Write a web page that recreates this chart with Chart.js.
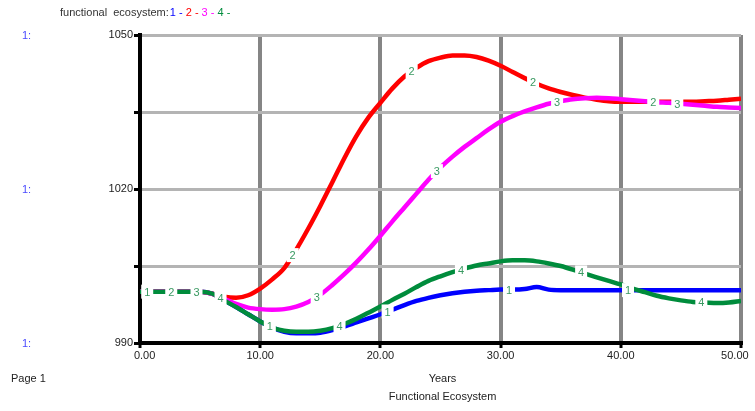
<!DOCTYPE html>
<html>
<head>
<meta charset="utf-8">
<script src="https://cdn.jsdelivr.net/npm/chart.js@4"></script>
<style>
  html, body { margin: 0; padding: 0; background: #fff; }
</style>
</head>
<body>
<canvas id="chart" width="755" height="411"></canvas>
<script>
// Years on the x axis
const years = [0, 1, 2, 3, 4, 5, 6, 7, 8, 9, 10, 11, 12, 13, 14, 15, 16, 17, 18, 19, 20,
    21, 22, 23, 24, 25, 26, 27, 28, 29, 30, 31, 32, 33, 34, 35, 36, 37, 38, 39, 40,
    41, 42, 43, 44, 45, 46, 47, 48, 49, 50];

// functional ecosystem, runs 1..4
const run1 = [1000, 1000, 1000, 1000, 1000, 1000, 999.6, 998.3, 997.0, 995.6, 994.2,
    993.0, 992.2, 991.9, 991.9, 992.0, 992.5, 993.2, 994.0, 994.8, 995.6,
    996.5, 997.4, 998.2, 998.8, 999.3, 999.7, 1000.0, 1000.2, 1000.3, 1000.4,
    1000.4, 1000.5, 1000.9, 1000.4, 1000.3, 1000.3, 1000.3, 1000.3, 1000.3, 1000.3,
    1000.3, 1000.3, 1000.3, 1000.3, 1000.3, 1000.3, 1000.3, 1000.3, 1000.3, 1000.3];
const run2 = [1000, 1000, 1000, 1000, 1000, 1000, 999.6, 999.0, 998.8, 999.3, 1000.6,
    1002.4, 1004.6, 1008.2, 1012.3, 1016.7, 1021.3, 1026.0, 1030.3, 1033.9, 1036.8,
    1039.6, 1041.9, 1043.6, 1044.9, 1045.6, 1046.0, 1046.0, 1045.7, 1045.0, 1044.0,
    1042.8, 1041.6, 1040.5, 1039.6, 1038.9, 1038.3, 1037.8, 1037.4, 1037.1, 1037.0,
    1037.0, 1037.0, 1037.0, 1037.0, 1037.0, 1037.0, 1037.1, 1037.2, 1037.4, 1037.6];
const run3 = [1000, 1000, 1000, 1000, 1000, 1000, 999.6, 998.6, 997.6, 996.9, 996.6,
    996.5, 996.6, 997.1, 998.0, 999.4, 1001.3, 1003.4, 1005.7, 1008.2, 1010.9,
    1013.7, 1016.4, 1019.1, 1021.8, 1024.2, 1026.3, 1028.2, 1029.9, 1031.6, 1033.1,
    1034.2, 1035.1, 1035.9, 1036.6, 1037.1, 1037.5, 1037.7, 1037.8, 1037.7, 1037.5,
    1037.3, 1037.1, 1036.9, 1036.8, 1036.6, 1036.4, 1036.2, 1036.0, 1035.9, 1035.8];
const run4 = [1000, 1000, 1000, 1000, 1000, 1000, 999.6, 998.3, 997.0, 995.6, 994.2,
    993.0, 992.4, 992.2, 992.2, 992.4, 992.9, 993.7, 994.7, 995.9, 997.1,
    998.4, 999.6, 1000.9, 1002.1, 1003.0, 1003.8, 1004.5, 1005.1, 1005.5, 1005.9,
    1006.1, 1006.1, 1005.9, 1005.5, 1005.0, 1004.3, 1003.5, 1002.8, 1002.1, 1001.4,
    1000.6, 999.9, 999.2, 998.7, 998.3, 998.0, 997.9, 997.8, 997.9, 998.2];

// where the little run numbers sit along each curve (years)
const markYears1 = [0.6, 10.8, 20.6, 30.7, 40.6];
const markYears2 = [2.6, 12.7, 22.6, 32.7, 42.7];
const markYears3 = [4.7, 14.7, 24.7, 34.7, 44.7];
const markYears4 = [6.7, 16.6, 26.7, 36.7, 46.7];

const yTicksShown = [1050, 1020, 990];
const xTitle = 'Years';
const pageTitle = 'Functional Ecosystem';
const graphTitle = 'functional  ecosystem:';

const FONT = '11px "Liberation Sans", Arial, sans-serif';
const runColors = ['#0000ff', '#ff0000', '#ff00ff', '#008c3c'];
const markColor = '#3a9a62';

const runs = [run1, run2, run3, run4];
const markYears = [markYears1, markYears2, markYears3, markYears4];

function valueAt(series, t) {
    const i = Math.min(Math.floor(t), years.length - 2);
    const f = t - years[i];
    return series[i] + (series[i + 1] - series[i]) * f;
}

// run numbers with a white box, drawn on top of the lines
const runMarks = {
    id: 'runMarks',
    afterDatasetsDraw(chart) {
        const { ctx, scales: { x, y } } = chart;
        ctx.save();
        ctx.font = FONT;
        ctx.textAlign = 'center';
        ctx.textBaseline = 'middle';
        runs.forEach((series, i) => {
            const label = String(i + 1);
            markYears[i].forEach(t => {
                const px = x.getPixelForValue(t);
                const py = y.getPixelForValue(valueAt(series, t));
                ctx.fillStyle = '#fff';
                ctx.fillRect(px - 6, py - 7, 12, 14);
                ctx.fillStyle = markColor;
                ctx.fillText(label, px, py + 1);
            });
        });
        ctx.restore();
    }
};

// page texts round the plot
const pageText = {
    id: 'pageText',
    afterDraw(chart) {
        const { ctx, scales: { x, y } } = chart;
        ctx.save();
        ctx.font = FONT;
        ctx.textBaseline = 'middle';
        ctx.textAlign = 'left';

        let tx = 60;
        ctx.fillStyle = '#333';
        ctx.fillText(graphTitle, tx, 13);
        tx += ctx.measureText(graphTitle).width + 1;
        ['1 - ', '2 - ', '3 - ', '4 -'].forEach((part, i) => {
            ctx.fillStyle = runColors[i];
            ctx.fillText(part, tx, 13);
            tx += ctx.measureText(part).width;
        });

        ctx.fillStyle = '#4a4aff';
        yTicksShown.forEach(v => ctx.fillText('1:', 22, y.getPixelForValue(v) + 1));

        ctx.fillStyle = '#222';
        ctx.fillText('Page 1', 11, 379);
        ctx.textAlign = 'center';
        const cx = (x.left + x.right) / 2 + 2;
        ctx.fillText(xTitle, cx, 379);
        ctx.fillText(pageTitle, cx, 397);
        ctx.restore();
    }
};

const ctx = document.getElementById('chart').getContext('2d');
new Chart(ctx, {
    type: 'line',
    data: {
        labels: years,
        datasets: runs.map((series, i) => ({
            label: String(i + 1),
            data: series.map((v, k) => ({ x: years[k], y: v })),
            borderColor: runColors[i],
            borderWidth: 4.5,
            pointRadius: 0,
            fill: false,
            cubicInterpolationMode: 'monotone',
            order: 4 - i
        }))
    },
    options: {
        responsive: false,
        animation: false,
        layout: { padding: { left: 0, right: 14, top: 35, bottom: 0 } },
        plugins: {
            legend: { display: false },
            tooltip: { enabled: false },
            title: { display: false }
        },
        scales: {
            x: {
                type: 'linear',
                min: 0,
                max: 50,
                afterFit: s => {
                    s.height = 68;
                    s.paddingLeft = 0;
                    s.paddingRight = 0;
                },
                ticks: {
                    stepSize: 10,
                    maxRotation: 0,
                    padding: 1,
                    color: '#222',
                    font: { family: '"Liberation Sans", Arial, sans-serif', size: 11 },
                    // end labels are pulled inwards like in the original
                    callback: v => {
                        const s = v.toFixed(2);
                        if (v === 0) return '   ' + s;
                        if (v === 50) return s + '    ';
                        return s;
                    }
                },
                grid: {
                    color: c => (c.tick && c.tick.value === 0 ? 'rgba(0,0,0,0)' : '#858585'),
                    lineWidth: 4,
                    tickColor: '#000',
                    tickLength: 5,
                    tickWidth: 3
                },
                border: { color: '#000', width: 4 }
            },
            y: {
                min: 990,
                max: 1050,
                afterFit: s => { s.width = 140; },
                ticks: {
                    stepSize: 15,
                    padding: 1,
                    color: '#222',
                    font: { family: '"Liberation Sans", Arial, sans-serif', size: 11 },
                    callback: v => (yTicksShown.includes(v) ? String(v) : '')
                },
                grid: {
                    color: c => (c.tick && c.tick.value === 990 ? 'rgba(0,0,0,0)' : '#b4b4b4'),
                    lineWidth: 3,
                    tickColor: '#000',
                    tickLength: 6,
                    tickWidth: 3
                },
                border: { color: '#000', width: 4 }
            }
        }
    },
    plugins: [runMarks, pageText]
});
</script>
</body>
</html>
